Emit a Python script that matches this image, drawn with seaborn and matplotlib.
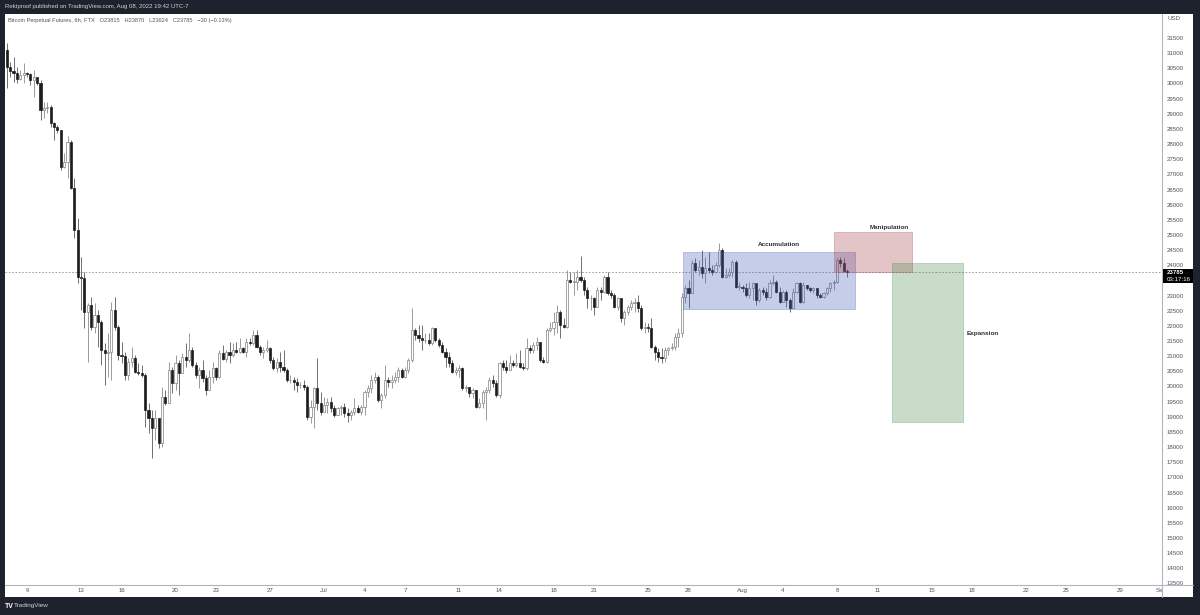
import numpy as np
import pandas as pd
import matplotlib
matplotlib.use("Agg")
import matplotlib.pyplot as plt
import matplotlib.dates as mdates
from matplotlib.patches import Rectangle
from matplotlib.lines import Line2D
import seaborn as sns

# ===================================================================
# Data — BTC-PERP (FTX), 6h candles
# ===================================================================

START = "2022-06-07 12:00"
FIRST_OPEN = 31104

CLOSE = [
    30554, 30422, 30356, 30136, 30279, 30334, 30300, 30114, 30224, 30026,
    29124, 29179, 29234, 28684, 28552, 28464, 27254, 27419, 28079, 26539,
    25164, 23624, 23569, 22469, 22689, 21974, 22359, 22139, 21204, 21116,
    21149, 22524, 21974, 21039, 21006, 20379, 20819, 20929, 20489, 20456,
    20379, 19224, 18949, 18619, 18949, 18124, 19664, 19444, 20544, 20104,
    20764, 20450, 20984, 20880, 21204, 20709, 20379, 20544, 20269, 19884,
    20324, 20599, 20324, 21094, 20900, 21149, 21039, 21204, 21149, 21259,
    21149, 21479, 21424, 21699, 21314, 21149, 21204, 21259, 20874, 20599,
    20819, 20654, 20544, 20214, 20214, 20159, 20049, 20049, 19994, 19004,
    19334, 19939, 19444, 19169, 19389, 19499, 19279, 19059, 19279, 19334,
    19114, 19059, 19169, 19279, 19169, 19334, 19829, 19939, 20214, 20324,
    19554, 19719, 20214, 20159, 20214, 20324, 20544, 20324, 20544, 20874,
    21864, 21699, 21589, 21534, 21534, 21424, 21919, 21534, 21369, 21149,
    20984, 20764, 20489, 20544, 20599, 19939, 19994, 19774, 19884, 19334,
    19444, 19829, 19884, 20214, 20104, 19719, 20764, 20654, 20544, 20764,
    20709, 20764, 20654, 20599, 21259, 21204, 21369, 21479, 20874, 20819,
    21864, 21919, 22139, 22469, 22029, 21974, 23514, 23459, 23459, 23624,
    23514, 23184, 22909, 22909, 22634, 23184, 23129, 23624, 23074, 23019,
    22634, 22909, 22249, 22469, 22634, 22744, 22799, 22579, 21919, 21974,
    21919, 21314, 21149, 20984, 20929, 21204, 21259, 21314, 21644, 21754,
    22964, 23239, 23074, 24064, 23844, 23954, 23734, 23899, 23844, 23789,
    24009, 24504, 23624, 23679, 23789, 24119, 23294, 23294, 23239, 23019,
    23239, 23404, 22854, 23184, 23129, 22964, 23404, 23459, 23129, 22799,
    23129, 22854, 22579, 23129, 23404, 22799, 23349, 23239, 23184, 23239,
    23019, 22964, 23074, 23239, 23404, 23459, 24174, 24064, 23815, 23785,
]

HIGH = [
    31324, 30720, 30884, 30554, 30444, 30664, 30390, 30356, 30444, 30169,
    30114, 29399, 29399, 29289, 28739, 28629, 28464, 27694, 28266, 28134,
    26869, 25549, 24284, 23789, 22744, 22964, 22744, 22524, 22194, 21424,
    21754, 22799, 22964, 22029, 21479, 21149, 20929, 21314, 21039, 20764,
    20709, 20434, 19444, 19224, 19224, 18949, 19994, 19884, 20819, 20654,
    21039, 20874, 21094, 21424, 21754, 21314, 20819, 20654, 20874, 20379,
    20544, 20819, 20654, 21204, 21369, 21204, 21479, 21424, 21479, 21589,
    21314, 21589, 21589, 21864, 21864, 21369, 21314, 21534, 21314, 20984,
    20929, 21149, 21204, 20599, 20379, 20324, 20269, 20159, 20214, 20049,
    19554, 19994, 20929, 19829, 19664, 19609, 19664, 19389, 19334, 19389,
    19444, 19279, 19224, 19609, 19389, 19389, 19884, 20049, 20379, 20489,
    20379, 19774, 20709, 20324, 20379, 20489, 20654, 20599, 20654, 20929,
    22579, 21919, 22029, 22029, 21754, 21754, 21974, 21919, 21589, 21479,
    21259, 21149, 20874, 20654, 20709, 20654, 20049, 19994, 19939, 19884,
    19609, 19884, 19994, 20324, 20379, 20214, 20819, 20874, 20874, 21039,
    20874, 21094, 21204, 20764, 21589, 21369, 21479, 21644, 21479, 20984,
    21919, 22139, 22469, 22689, 22524, 22249, 23844, 23789, 23789, 23844,
    24306, 23624, 23294, 23019, 22964, 23294, 23294, 23679, 23789, 23184,
    23074, 22964, 22689, 22524, 22689, 22854, 22909, 23019, 22689, 22139,
    22084, 22249, 21369, 21259, 21259, 21314, 21314, 21424, 21754, 21919,
    23074, 23349, 23514, 24174, 24229, 24174, 24504, 24284, 24449, 24009,
    24119, 24724, 24559, 23899, 23899, 24174, 24174, 23459, 23349, 23404,
    23459, 23459, 23294, 23239, 23294, 23239, 23514, 23679, 23514, 23294,
    23184, 23184, 22909, 23239, 23459, 23459, 23459, 23349, 23294, 23294,
    23239, 23074, 23129, 23294, 23459, 23514, 24229, 24284, 24229, 23870,
]

LOW = [
    29839, 30224, 30059, 30004, 30114, 30004, 30224, 29949, 29564, 29949,
    28794, 28849, 29014, 28574, 28134, 28354, 27144, 27199, 26869, 26506,
    24889, 23404, 22524, 21919, 20819, 21864, 21754, 21314, 20709, 20049,
    20324, 20214, 21864, 20874, 20764, 20214, 20214, 20654, 20434, 20379,
    20324, 18674, 18454, 17629, 18234, 17959, 18014, 19389, 19444, 19774,
    19884, 19719, 20434, 20654, 20819, 20654, 20269, 19939, 20159, 19719,
    19884, 20104, 20214, 20269, 20874, 20819, 20764, 20984, 21094, 21094,
    21094, 20984, 21369, 21369, 21259, 21039, 20929, 21149, 20764, 20544,
    20489, 20489, 20489, 20159, 20104, 19884, 19829, 19939, 19884, 18894,
    18784, 18619, 19224, 19059, 19169, 19114, 19169, 19004, 19059, 19059,
    19004, 18839, 18894, 19059, 19114, 19059, 19059, 19664, 19774, 20104,
    19499, 19279, 19609, 19994, 19939, 20104, 20159, 20269, 20269, 20434,
    20819, 21534, 21479, 21204, 21424, 21369, 21369, 21479, 21314, 21094,
    20654, 20654, 20434, 20379, 20324, 19884, 19829, 19664, 19609, 19279,
    19279, 19279, 18894, 19774, 19994, 19664, 19609, 20544, 20434, 20544,
    20654, 20654, 20599, 20544, 20544, 21094, 21094, 21204, 20819, 20764,
    20764, 21809, 21699, 21754, 21589, 21919, 21919, 23404, 23019, 23184,
    23459, 23019, 22579, 22524, 22359, 22689, 22854, 23074, 23019, 22909,
    22579, 22524, 22139, 22029, 22359, 22524, 22469, 22469, 21864, 21754,
    21809, 21259, 20874, 20819, 20764, 20819, 21039, 21204, 21204, 21314,
    21644, 22744, 22579, 23074, 23789, 23679, 23569, 23404, 23734, 23679,
    23734, 23954, 23569, 23569, 23624, 23624, 23239, 23184, 23129, 22964,
    22909, 22854, 22689, 22799, 23019, 22854, 22909, 23349, 23074, 22744,
    22854, 22634, 22469, 22579, 23074, 22744, 22744, 23184, 23129, 23074,
    22909, 22909, 22909, 23019, 23129, 23184, 23404, 23954, 23789, 23624,
]

LAST_PRICE = 23785
LAST_TIMER = "03:17:16"

TICK_DATES = [
    "2022-06-09", "2022-06-13", "2022-06-16", "2022-06-20", "2022-06-23",
    "2022-06-27", "2022-07-01", "2022-07-04", "2022-07-07", "2022-07-11",
    "2022-07-14", "2022-07-18", "2022-07-21", "2022-07-25", "2022-07-28",
    "2022-08-01", "2022-08-04", "2022-08-08", "2022-08-11", "2022-08-15",
    "2022-08-18", "2022-08-22", "2022-08-25", "2022-08-29", "2022-09-01",
]
TICK_LABELS = [
    "9", "13", "16", "20", "23", "27", "Jul", "4", "7", "11", "14", "18", "21",
    "25", "28", "Aug", "4", "8", "11", "15", "18", "22", "25", "29", "Sep",
]
# 23500 sits under the last-price tag, so TradingView hides it
PRICE_TICKS = [p for p in range(13500, 31501, 500) if p != 23500]

# Drawn zones: (label, start, end, low, high)
ZONE_NAMES = ["Accumulation", "Manipulation", "Expansion"]
ZONE_START = ["2022-07-27 14:00", "2022-08-07 19:00", "2022-08-12 02:00"]
ZONE_END = ["2022-08-09 08:00", "2022-08-13 13:00", "2022-08-17 08:00"]
ZONE_LOW = [22550, 23790, 18840]
ZONE_HIGH = [24430, 25110, 24090]
ZONE_COLORS = [(0.27, 0.36, 0.72), (0.65, 0.25, 0.28), (0.30, 0.55, 0.32)]
LABEL_TIME = ["2022-08-03 17:00", "2022-08-11 21:00", "2022-08-18 19:00"]
LABEL_PRICE = [24700, 25250, 21755]

# ===================================================================
# Style setup
# ===================================================================

W, H = 1200, 615
FRAME = "#1e222d"
AXIS_GREY = "#b2b5be"
TEXT_GREY = "#50535e"
UP_EDGE = "#808080"
DOWN_COL = "#1c1c1c"

sns.set_theme(style="white")
plt.rcParams["font.family"] = ["Liberation Sans", "DejaVu Sans"]


def fx(px):
    return px / W


def fy(py):
    return 1 - py / H


df = pd.DataFrame({
    "time": pd.date_range(START, periods=len(CLOSE), freq="6h"),
    "close": CLOSE,
    "high": HIGH,
    "low": LOW,
})
df["open"] = [FIRST_OPEN] + CLOSE[:-1]
df["high"] = df[["high", "open", "close"]].max(axis=1)
df["low"] = df[["low", "open", "close"]].min(axis=1)
df["x"] = mdates.date2num(df["time"])
up = df["close"] >= df["open"]

fig = plt.figure(figsize=(W / 100, H / 100), dpi=100, facecolor=FRAME)

# white chart panel inside the dark snapshot frame
fig.patches.append(Rectangle((fx(5), fy(597)), fx(1193) - fx(5), fy(14) - fy(597),
                             transform=fig.transFigure, facecolor="white",
                             edgecolor="none", zorder=-1))

ax = fig.add_axes([fx(5), fy(585), fx(1162) - fx(5), fy(14) - fy(585)])
ax.set_facecolor("none")

# price scale: 31500 sits at y=38px, 33 USD per pixel
ax.set_ylim(31500 - (585 - 38) * 33, 31500 + (38 - 14) * 33)
day0 = mdates.date2num(pd.Timestamp("2022-06-09"))
ax.set_xlim(day0 - (27 - 5) / 13.5, day0 + (1162 - 27) / 13.5)

# ===================================================================
# Candles
# ===================================================================

ax.vlines(df["x"], df["low"], df["high"],
          colors=np.where(up, UP_EDGE, "#4a4a4a"), linewidth=0.55, zorder=2)
body_low = df[["open", "close"]].min(axis=1)
body_h = (df["close"] - df["open"]).abs().clip(lower=12)
ax.bar(df["x"], body_h, bottom=body_low, width=0.15,
       color=np.where(up, "white", DOWN_COL),
       edgecolor=np.where(up, UP_EDGE, DOWN_COL), linewidth=0.5, zorder=2)

# current price line
ax.axhline(LAST_PRICE, color="#909090", linewidth=0.6, linestyle=(0, (2, 2)), zorder=1)

# zones
for name, t0, t1, lo, hi, col, lt, lp in zip(ZONE_NAMES, ZONE_START, ZONE_END, ZONE_LOW,
                                             ZONE_HIGH, ZONE_COLORS, LABEL_TIME, LABEL_PRICE):
    x0 = mdates.date2num(pd.Timestamp(t0))
    x1 = mdates.date2num(pd.Timestamp(t1))
    ax.add_patch(Rectangle((x0, lo), x1 - x0, hi - lo, facecolor=(*col, 0.30),
                           edgecolor=(*col, 0.35), linewidth=0.6, zorder=3))
    ax.text(mdates.date2num(pd.Timestamp(lt)), lp, name, fontsize=4.6, fontweight="bold",
            color="#2a2e39", ha="center", va="center", zorder=4)

# ===================================================================
# Axes, ticks
# ===================================================================

for side in ["left", "top", "right", "bottom"]:
    ax.spines[side].set_visible(False)

ax.yaxis.tick_right()
ax.set_yticks(PRICE_TICKS)
ax.set_yticklabels([str(v) for v in PRICE_TICKS])
ax.set_xticks([mdates.date2num(pd.Timestamp(d)) for d in TICK_DATES])
ax.set_xticklabels(TICK_LABELS)
ax.tick_params(axis="y", length=0, pad=3.6, labelsize=4.4, labelcolor=TEXT_GREY)
ax.tick_params(axis="x", length=0, pad=2.2, labelsize=4.4, labelcolor=TEXT_GREY)
ax.grid(False)

# cover the part of the time scale that runs under the price scale
fig.patches.append(Rectangle((fx(1162.5), fy(597)), fx(1193) - fx(1162.5), fy(585.5) - fy(597),
                             transform=fig.transFigure, facecolor="white",
                             edgecolor="none", zorder=4))

# scale separators
fig.add_artist(Line2D([fx(5), fx(1193)], [fy(585), fy(585)], color=AXIS_GREY,
                      linewidth=0.8, zorder=6))
fig.add_artist(Line2D([fx(1162), fx(1162)], [fy(14), fy(597)], color=AXIS_GREY,
                      linewidth=0.8, zorder=6))

# last price tag
fig.patches.append(Rectangle((fx(1162.5), fy(283)), fx(1193) - fx(1162.5), fy(269) - fy(283),
                             transform=fig.transFigure, facecolor="black",
                             edgecolor="none", zorder=7))
fig.text(fx(1167), fy(272.5), str(LAST_PRICE), color="white", fontsize=4.4,
         fontweight="bold", va="center", ha="left", zorder=8)
fig.text(fx(1167), fy(279.5), LAST_TIMER, color="white", fontsize=4.4,
         va="center", ha="left", zorder=8)
fig.text(fx(1167), fy(19), "USD", color=TEXT_GREY, fontsize=4.4, va="center", ha="left")

# ===================================================================
# Header / footer
# ===================================================================

fig.text(fx(5), fy(6.5), "Rektproof published on TradingView.com, Aug 08, 2022 19:42 UTC-7",
         color="#d1d4dc", fontsize=4.3, va="center", ha="left")
fig.text(fx(8), fy(20.5),
         "Bitcoin Perpetual Futures, 6h, FTX   O23815   H23870   L23624   C23785   \u221230 (\u22120.13%)",
         color=TEXT_GREY, fontsize=4.1, va="center", ha="left")
fig.text(fx(5), fy(606), "TV", color="white", fontsize=5, fontweight="bold",
         va="center", ha="left")
fig.text(fx(14), fy(606), "TradingView", color="#d1d4dc", fontsize=4.6,
         va="center", ha="left")

fig.savefig("out.png", dpi=100, facecolor=FRAME)
plt.close()
